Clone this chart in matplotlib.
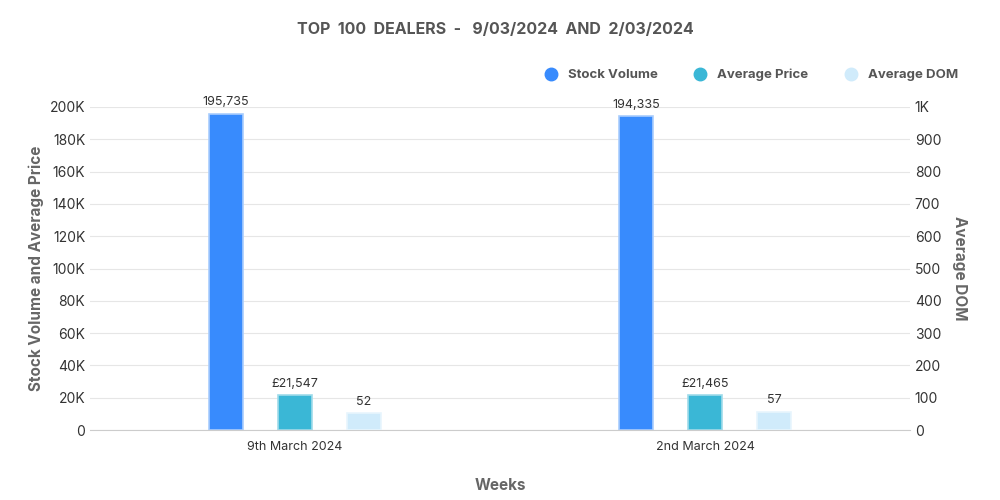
import matplotlib.pyplot as plt
import numpy as np

weeks = ["9th March 2024", "2nd March 2024"]
stock_volume = [195735, 194335]
average_price = [21547, 21465]
average_dom = [52, 57]

plt.rcParams["font.family"] = ["Inter", "DejaVu Sans"]

fig = plt.figure(figsize=(10, 5), dpi=100)
ax = fig.add_axes([0.09, 0.14, 0.82, 0.646])
ax2 = ax.twinx()

x = np.arange(len(weeks))
off = 0.168
w = 0.083
c_stock, c_price, c_dom = "#388bfd", "#3ab7d6", "#d0ebfb"

b1 = ax.bar(x - off, stock_volume, w, color=c_stock, edgecolor="#a9cdfd", linewidth=1.2)
b2 = ax.bar(x, average_price, w, color=c_price, edgecolor="#9fdbea", linewidth=1.2)
b3 = ax2.bar(x + off, average_dom, w, color=c_dom, edgecolor="#e8f5fd", linewidth=1.2)

for bars, vals, fmt, a in [(b1, stock_volume, "{:,}", ax), (b2, average_price, "£{:,}", ax), (b3, average_dom, "{}", ax2)]:
    for b, v in zip(bars, vals):
        a.annotate(fmt.format(v), (b.get_x() + b.get_width() / 2, v), xytext=(0, 4),
                   textcoords="offset points", ha="center", va="bottom", fontsize=9, color="#333333")

ax.set_xlim(-0.5, 1.5)
ax.set_ylim(0, 200000)
ax2.set_ylim(0, 1000)
ax.set_yticks(np.arange(0, 200001, 20000))
ax.set_yticklabels(["0"] + [f"{int(v/1000)}K" for v in np.arange(20000, 200001, 20000)])
ax2.set_yticks(np.arange(0, 1001, 100))
ax2.set_yticklabels([str(v) for v in range(0, 1000, 100)] + ["1K"])
ax.set_xticks(x)
ax.set_xticklabels(weeks)

for a in (ax, ax2):
    for s in a.spines.values():
        s.set_visible(False)
    a.tick_params(length=0, labelsize=10, colors="#333333")
ax.tick_params(axis="x", labelsize=9, pad=8)
ax.spines["bottom"].set_visible(True)
ax.spines["bottom"].set_color("#cccccc")
ax.grid(axis="y", color="#e6e6e6", linewidth=0.8)
ax.set_axisbelow(True)

ax.set_xlabel("Weeks", fontsize=11, fontweight="bold", color="#666666", labelpad=18)
ax.set_ylabel("Stock Volume and Average Price", fontsize=11, fontweight="bold", color="#666666")
ax2.set_ylabel("Average DOM", fontsize=11, fontweight="bold", color="#666666", rotation=270, labelpad=18)

fig.text(0.495, 0.94, "TOP  100  DEALERS  -   9/03/2024  AND  2/03/2024", ha="center", va="center",
         fontsize=11.5, fontweight="bold", color="#555555")

handles = [plt.Line2D([], [], marker="o", linestyle="", markersize=9, color=c) for c in (c_stock, c_price, c_dom)]
leg = fig.legend(handles, ["Stock Volume", "Average Price", "Average DOM"], loc="center right",
                 bbox_to_anchor=(0.97, 0.85), ncol=3, frameon=False, fontsize=9.5,
                 handletextpad=0.3, columnspacing=2.2)
for t in leg.get_texts():
    t.set_fontweight("bold")
    t.set_color("#555555")

fig.savefig("out.png")
